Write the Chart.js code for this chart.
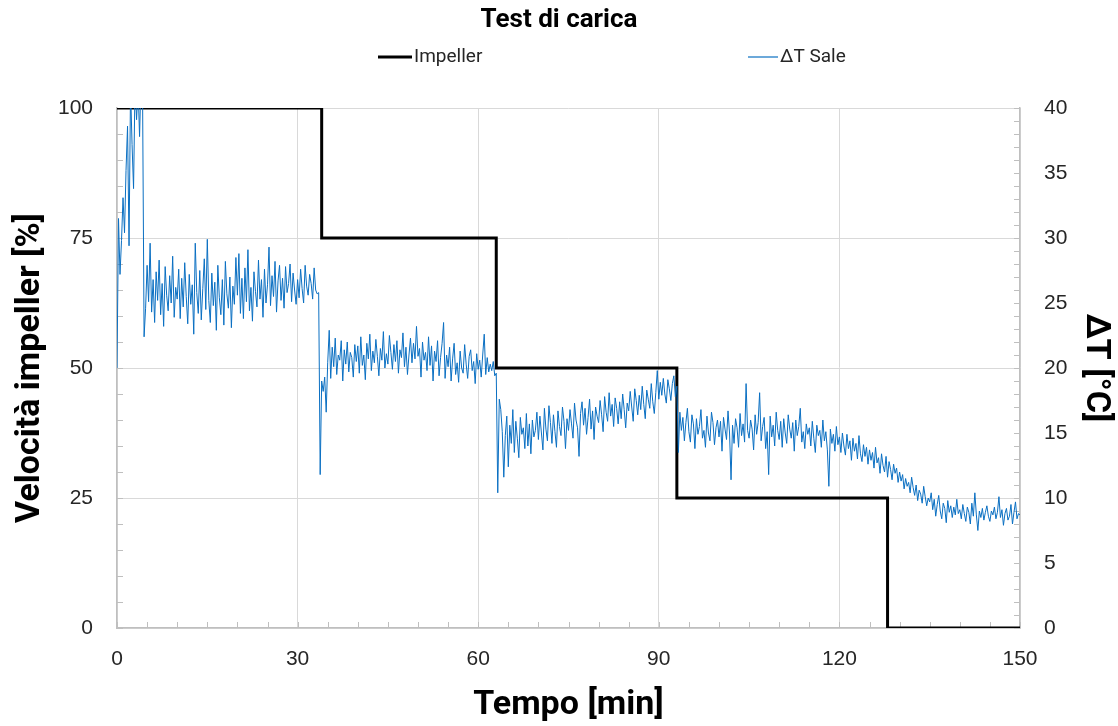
<!DOCTYPE html>
<html>
<head>
<meta charset="utf-8">
<title>Test di carica</title>
<script src="https://cdn.jsdelivr.net/npm/chart.js@4.4.0/dist/chart.umd.min.js"></script>
<style>
  html, body { margin: 0; padding: 0; background: #fff; }
</style>
</head>
<body>
<canvas id="grafico" width="1118" height="726"></canvas>
<script>
// Impeller: gradini di velocità (min, %)
const tempiImpeller = [0, 34, 63, 93, 128, 150];
const velocitaImpeller = [100, 75, 50, 25, 0, 0];

// ΔT Sale: un campione ogni 0.25 min, da 0 a 150 min (°C)
const passoDT = 0.25;
const deltaT = [
  20.0, 31.5, 27.2, 29.8, 33.1, 30.4, 35.2, 38.6, 29.4, 41.5, 37.2, 33.8, 42.0, 39.1, 41.6, 37.8, 42.5, 40.8, 22.4, 24.6,
  27.9, 25.1, 29.6, 24.3, 26.8, 23.5, 27.4, 25.2, 28.3, 24.1, 26.5, 23.2, 27.8, 25.6, 24.4, 27.1, 25.0, 28.6, 23.9, 26.2,
  25.3, 27.6, 23.8, 26.9, 24.7, 28.1, 25.5, 23.4, 27.2, 24.9, 26.4, 22.6, 29.6, 25.8, 24.2, 27.5, 23.7, 26.1, 28.4, 24.5,
  29.9, 25.2, 23.5, 27.3, 24.8, 26.6, 22.9, 27.9, 25.4, 24.1, 26.8, 23.3, 28.2, 25.7, 24.6, 27.0, 23.1, 26.3, 24.9, 28.5,
  25.6, 28.8, 24.2, 26.9, 23.8, 27.7, 25.1, 29.1, 24.4, 26.2, 23.6, 27.4, 25.9, 24.7, 28.3, 25.3, 26.8, 23.9, 27.6, 25.0,
  26.4, 29.3, 24.8, 27.1, 25.5, 28.2, 24.3, 26.7, 27.9, 25.2, 26.9, 24.6, 27.8, 25.8, 26.5, 28.0, 25.1, 27.3, 26.0, 24.9,
  26.8, 25.4, 27.6, 26.1, 25.0, 27.9, 26.3, 25.6, 27.2, 26.5, 25.3, 27.7, 26.0, 25.7, 25.8, 11.8, 19.0, 18.2, 19.3, 16.6,
  20.4, 22.9, 19.2, 21.6, 20.1, 22.3, 19.5, 21.0, 20.6, 22.1, 19.0, 21.4, 20.3, 22.0, 19.7, 21.2, 20.8, 19.3, 21.8, 20.5,
  21.7, 19.6, 22.4, 20.2, 21.0, 19.1, 21.9, 20.7, 22.6, 19.8, 21.3, 20.4, 22.2, 20.9, 19.4, 21.5, 20.6, 22.8, 20.0, 21.1,
  20.3, 22.5, 21.2, 19.9, 21.8, 20.5, 22.1, 19.6, 21.4, 20.8, 22.7, 20.1, 21.6, 19.5, 21.0, 22.3, 20.4, 21.9, 20.7, 23.2,
  20.9, 21.5, 19.3, 22.0, 20.6, 21.2, 19.8, 22.4, 20.2, 21.7, 19.0, 21.3, 20.5, 22.1, 19.4, 20.8, 21.9, 23.5, 19.2, 21.0,
  20.1, 21.6, 19.0, 20.7, 21.9, 19.5, 20.4, 18.9, 21.3, 20.0, 19.6, 21.8, 20.3, 19.2, 20.9, 21.4, 19.8, 20.5, 18.8, 21.1,
  19.9, 20.6, 19.3, 21.0, 22.6, 19.5, 20.8, 19.7, 20.3, 19.8, 20.5, 19.4, 19.6, 10.4, 17.6, 16.8, 15.1, 11.6, 14.8, 16.3,
  12.4, 15.6, 14.2, 16.8, 13.5, 15.9, 14.6, 13.1, 16.2, 14.9, 15.4, 13.8, 16.5, 14.0, 15.7, 13.4, 16.0, 14.7, 15.2, 16.6,
  14.5, 16.3, 15.0, 13.7, 16.9, 15.3, 14.4, 17.1, 15.8, 14.2, 16.4, 15.1, 13.9, 16.7, 15.5, 14.8, 17.0, 15.9, 13.8, 16.1,
  15.2, 16.8, 15.7, 14.6, 17.3, 16.0, 15.4, 13.2, 16.5, 17.4, 15.6, 16.9, 14.9, 16.2, 17.6, 15.3, 16.7, 14.5, 17.0, 16.3,
  15.8, 17.5, 16.4, 15.1, 17.8, 16.6, 15.9, 18.1, 16.3, 17.2, 15.5, 17.7, 16.9, 15.7, 17.4, 16.1, 18.0, 16.8, 15.4, 17.3,
  16.7, 18.2, 17.0, 15.9, 18.4, 17.5, 16.4, 17.9, 16.8, 18.6, 17.2, 16.1, 18.3, 17.6, 16.9, 18.8, 17.4, 16.5, 18.1, 19.8,
  17.6, 18.9, 17.9, 19.2, 18.0, 17.3, 19.1, 18.4, 17.5, 18.8, 19.4, 17.8, 18.6, 13.5, 16.6, 15.2, 16.2, 14.4, 15.8, 16.9,
  15.1, 14.3, 16.4, 15.7, 13.8, 16.1, 14.9, 15.5, 16.8, 14.6, 15.2, 13.9, 16.3, 15.0, 14.4, 16.6, 15.8, 14.1, 15.4, 16.0,
  14.7, 15.9, 13.6, 16.2, 15.3, 14.5, 16.7, 15.0, 11.4, 15.6, 14.2, 16.1, 15.4, 13.9, 16.5, 14.8, 15.7, 14.3, 18.8, 15.2,
  14.6, 16.0, 15.3, 13.7, 16.4, 14.9, 15.8, 18.1, 14.4, 15.5, 16.2, 13.8, 15.1, 11.8, 16.3, 14.7, 15.6, 14.0, 16.6, 15.2,
  14.5, 15.9, 13.9, 16.1, 15.0, 14.2, 16.4, 15.3, 14.6, 15.8, 13.6, 16.0, 14.8, 15.5, 16.9, 14.3, 15.1, 13.8, 15.7, 14.9,
  15.4, 14.0, 15.9, 14.6, 13.5, 15.6, 14.8, 15.2, 13.9, 16.0, 14.4, 15.1, 13.7, 10.9, 15.3, 14.2, 14.9, 13.6, 15.5, 14.1,
  14.7, 13.5, 15.0, 14.0, 13.3, 14.9, 13.8, 14.4, 12.9, 14.6, 13.6, 14.2, 13.0, 14.8, 13.4, 12.8, 14.1, 13.2, 13.9, 12.6,
  13.7, 12.9, 13.5, 12.3, 13.9, 12.7, 13.1, 11.9, 13.4, 12.5, 12.0, 13.2, 11.6, 12.8, 12.2, 11.4, 12.6, 11.9, 12.3, 11.2,
  12.0, 11.3, 11.8, 10.7, 11.5, 10.9, 11.2, 10.4, 11.6, 10.8, 10.2, 11.0, 9.8, 10.6, 10.3, 9.6, 10.9, 10.1, 9.4, 10.0,
  9.7, 10.4, 9.1, 9.9, 8.6, 9.5, 10.2, 9.0, 8.4, 9.6, 9.2, 8.1, 9.8, 8.9, 9.4, 8.5, 9.3, 8.7, 9.9, 8.8,
  9.1, 8.4, 9.5, 8.8, 8.2, 9.3, 8.9, 8.0, 9.6, 8.6, 10.4, 8.7, 7.5, 9.0, 8.5, 9.2, 8.3, 8.9, 9.4, 8.6,
  8.2, 9.0, 8.7, 9.3, 8.4, 8.9, 10.1, 8.5, 9.1, 7.9, 8.8, 9.2, 8.3, 8.6, 9.5, 8.0, 8.9, 9.7, 8.4, 8.8,
  8.7
];

// etichette degli assi
const tickTempo = [0, 30, 60, 90, 120, 150];
const tickVelocita = [0, 25, 50, 75, 100];
const tickDeltaT = [0, 5, 10, 15, 20, 25, 30, 35, 40];

const nomiSerie = ["Impeller", "ΔT Sale"];
const coloriSerie = ["#000000", "#0a6fc2"];

const grigioGriglia = "#d9d9d9";
const grigioAsse = "#bfbfbf";
const fontTitoli = "Roboto, sans-serif";

// tacchette secondarie rivolte verso l'interno
const tacchette = {
  id: "tacchette",
  beforeDatasetsDraw(chart) {
    const ctx = chart.ctx;
    const a = chart.chartArea;
    const sx = chart.scales.x, sy = chart.scales.y, sy2 = chart.scales.y2;
    ctx.save();
    ctx.strokeStyle = grigioAsse;
    ctx.lineWidth = 1;
    ctx.beginPath();
    for (let v = 0; v <= 150; v += 5) {
      const px = Math.round(sx.getPixelForValue(v)) + 0.5;
      ctx.moveTo(px, a.bottom);
      ctx.lineTo(px, a.bottom - 6);
    }
    for (let v = 0; v <= 100; v += 5) {
      const py = Math.round(sy.getPixelForValue(v)) + 0.5;
      ctx.moveTo(a.left, py);
      ctx.lineTo(a.left + 6, py);
    }
    for (let v = 0; v <= 40; v += 1) {
      const py = Math.round(sy2.getPixelForValue(v)) + 0.5;
      ctx.moveTo(a.right, py);
      ctx.lineTo(a.right - 6, py);
    }
    ctx.stroke();
    ctx.restore();
  }
};

// legenda disegnata a mano (posizioni come nell'originale)
const legenda = {
  id: "legenda",
  afterDraw(chart) {
    const ctx = chart.ctx;
    const y = 57;
    const voci = [
      { x0: 378, x1: 412, w: 3 },
      { x0: 748, x1: 778, w: 1.2 }
    ];
    ctx.save();
    ctx.font = "19px Roboto";
    ctx.textBaseline = "middle";
    voci.forEach((v, i) => {
      ctx.strokeStyle = coloriSerie[i];
      ctx.lineWidth = v.w;
      ctx.beginPath();
      ctx.moveTo(v.x0, y);
      ctx.lineTo(v.x1, y);
      ctx.stroke();
      ctx.fillStyle = "#262626";
      ctx.fillText(nomiSerie[i], v.x1 + 2, y);
    });
    ctx.restore();
  }
};

const puntiImpeller = tempiImpeller.map((t, i) => ({ x: t, y: velocitaImpeller[i] }));
const puntiDT = deltaT.map((v, i) => ({ x: i * passoDT, y: v }));

const fontTick = { family: "'Liberation Sans', Arial, sans-serif", size: 21 };
const fontAsse = { family: fontTitoli, size: 34, weight: "bold", lineHeight: 1.1 };

new Chart(document.getElementById("grafico"), {
  type: "line",
  data: {
    datasets: [
      {
        label: nomiSerie[0],
        data: puntiImpeller,
        yAxisID: "y",
        stepped: "before",
        borderColor: coloriSerie[0],
        borderWidth: 3,
        pointRadius: 0,
        order: 1
      },
      {
        label: nomiSerie[1],
        data: puntiDT,
        yAxisID: "y2",
        borderColor: coloriSerie[1],
        borderWidth: 1,
        pointRadius: 0,
        order: 0
      }
    ]
  },
  options: {
    responsive: false,
    animation: false,
    devicePixelRatio: 1,
    layout: { padding: 0 },
    plugins: {
      legend: { display: false },
      tooltip: { enabled: false },
      title: {
        display: true,
        text: "Test di carica",
        color: "#000",
        font: { family: "Roboto", size: 26, weight: "bold", lineHeight: 1.2 },
        padding: { top: 5, bottom: 71.8 }
      }
    },
    scales: {
      x: {
        type: "linear",
        min: 0,
        max: 150,
        afterBuildTicks: s => { s.ticks = tickTempo.map(v => ({ value: v })); },
        afterFit: s => { s.height = 98; },
        grid: { color: grigioGriglia, drawTicks: false },
        border: { color: grigioAsse, width: 1.5 },
        ticks: { font: fontTick, color: "#262626", padding: 19, maxRotation: 0 },
        title: {
          display: true,
          text: "Tempo [min]",
          color: "#000",
          font: fontAsse,
          padding: { top: 0, bottom: 2 }
        }
      },
      y: {
        position: "left",
        min: 0,
        max: 100,
        afterBuildTicks: s => { s.ticks = tickVelocita.map(v => ({ value: v })); },
        afterFit: s => { s.width = 117; },
        grid: { color: grigioGriglia, drawTicks: false },
        border: { color: grigioAsse, width: 1.5 },
        ticks: { font: fontTick, color: "#262626", padding: 24 },
        title: {
          display: true,
          text: "Velocità impeller [%]",
          color: "#000",
          font: fontAsse,
          padding: { top: 12, bottom: 0 }
        }
      },
      y2: {
        position: "right",
        min: 0,
        max: 40,
        afterBuildTicks: s => { s.ticks = tickDeltaT.map(v => ({ value: v })); },
        afterFit: s => { s.width = 98; },
        grid: { drawOnChartArea: false, drawTicks: false },
        border: { color: grigioAsse, width: 1.5 },
        ticks: { font: fontTick, color: "#262626", padding: 24 },
        title: {
          display: true,
          text: "ΔT [°C]",
          color: "#000",
          font: fontAsse,
          padding: { top: 4, bottom: 0 }
        }
      }
    }
  },
  plugins: [tacchette, legenda]
});
</script>
</body>
</html>
